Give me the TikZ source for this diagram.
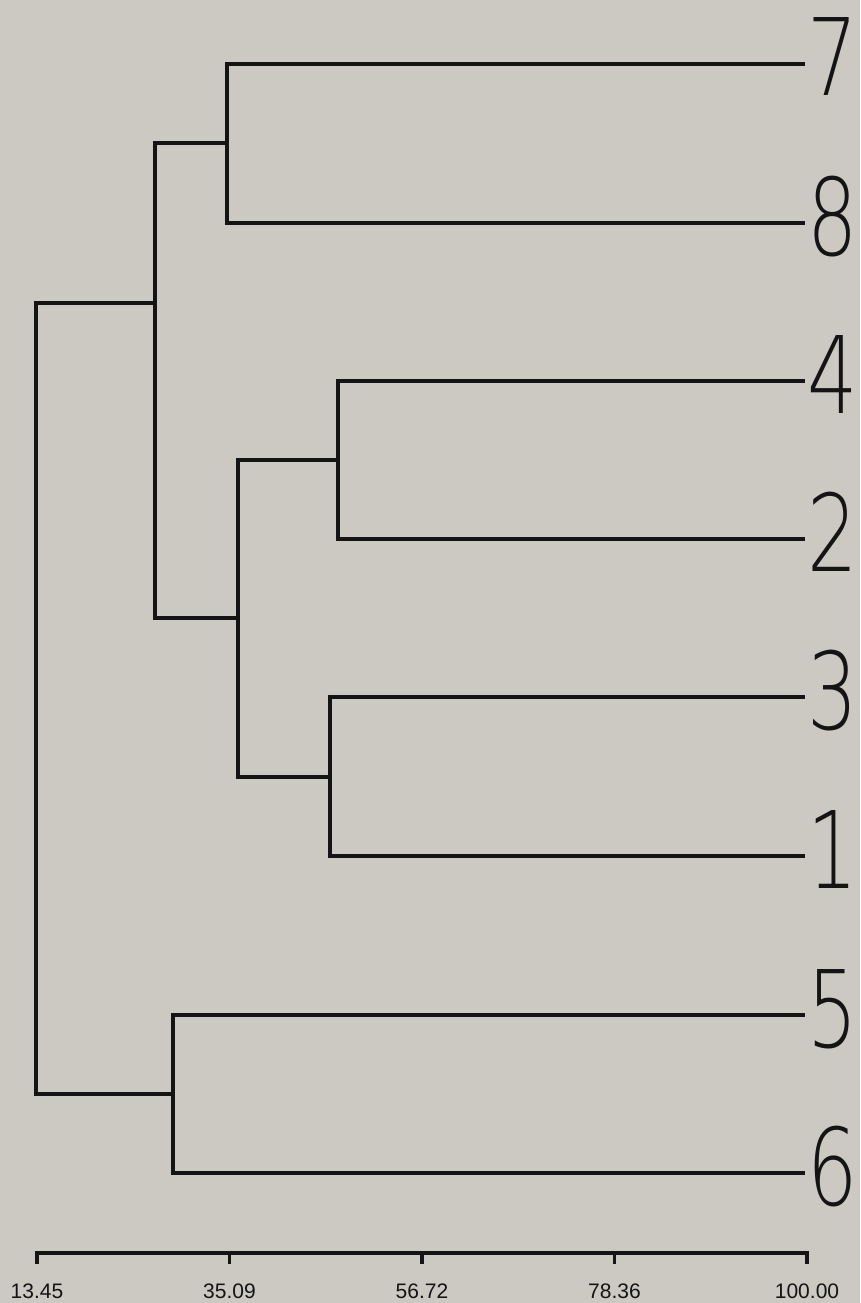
\documentclass[tikz,border=0pt]{standalone}
\usepackage{fontspec}
\usepackage{graphicx}
\setmainfont{Liberation Sans}
\newfontfamily\plotfont{DejaVu Sans ExtraLight}
\definecolor{paper}{HTML}{CCC9C3}
\definecolor{ink}{HTML}{141414}

\begin{document}
\begin{tikzpicture}[
  x=1pt,
  y=-1pt,
  line join=miter,
  line cap=rect,
  tree/.style={draw=ink,line width=3.2pt},
  axisline/.style={draw=ink,line width=3.2pt},
  leaf/.style={anchor=base west,inner sep=0pt,text=ink,font=\plotfont\fontsize{107}{107}\selectfont},
  ticklabel/.style={anchor=base,inner sep=0pt,text=ink,font=\fontsize{21}{21}\selectfont}
]
  % Page of the scanned plot; fixes the margins too.
  \fill[paper] (0,0) rectangle (860,1303);
  \useasboundingbox (0,0) rectangle (860,1303);

  % Leaf ends and their labels.
  \foreach \id/\ly in {7/64,8/223,4/381,2/539,3/697,1/856,5/1015,6/1173} {
    \coordinate (e\id) at (803,\ly);
    \node[leaf] (n\id) at (807,\ly+32) {\scalebox{0.74}[1]{\id}};
  }

  % Merge points (x follows the similarity scale below).
  \coordinate (m78) at (227,143);
  \coordinate (m42) at (338,460);
  \coordinate (m31) at (330,777);
  \coordinate (m4231) at (238,618);
  \coordinate (mtop) at (155,303);
  \coordinate (m56) at (173,1094);
  \coordinate (root) at (36,698);

  % Dendrogram branches.
  \draw[tree] (m78) |- (e7);
  \draw[tree] (m78) |- (e8);
  \draw[tree] (m42) |- (e4);
  \draw[tree] (m42) |- (e2);
  \draw[tree] (m31) |- (e3);
  \draw[tree] (m31) |- (e1);
  \draw[tree] (m4231) |- (m42);
  \draw[tree] (m4231) |- (m31);
  \draw[tree] (mtop) |- (m78);
  \draw[tree] (mtop) |- (m4231);
  \draw[tree] (m56) |- (e5);
  \draw[tree] (m56) |- (e6);
  \draw[tree] (root) |- (mtop);
  \draw[tree] (root) |- (m56);

  % Similarity axis.
  \coordinate (a0) at (37,1253);
  \coordinate (a1) at (807,1253);
  \draw[axisline] (a0) -- (a1);
  \foreach \tx/\tv [count=\i] in {37/13.45,229.5/35.09,422/56.72,614.5/78.36,807/100.00} {
    \draw[axisline] (\tx,1253) -- (\tx,1262);
    \node[ticklabel] (t\i) at (\tx,1298) {\tv};
  }
\end{tikzpicture}
\end{document}
